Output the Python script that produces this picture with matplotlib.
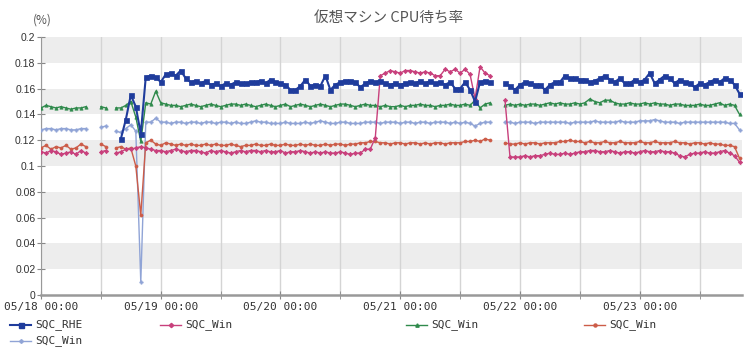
import numpy as np
import pandas as pd
import matplotlib.pyplot as plt
import matplotlib.dates as mdates
from matplotlib.lines import Line2D

# hourly samples 05/18 00:00 - 05/23 20:00, values in 1/1000
times = pd.date_range("2015-05-18 00:00", periods=141, freq="h")

labels = ["SQC_RHE", "SQC_Win", "SQC_Win", "SQC_Win", "SQC_Win"]

rhe = [None] * 10 + [None, None] + [None, None] + [None] + [
    None, 121, 136, 155, 146, 125, 169, 170, 169, 165,
    171, 172, 170, 174, 168, 165, 166, 164, 166, 163,
    164, 162, 164, 163, 165, 164, 164, 165, 165, 166,
    164, 167, 165, 164, 163, 159, 159, 162, 167, 162,
    163, 162, 170, 159, 163, 165, 166, 166, 165, 161,
    164, 166, 165, 166, 164, 163, 164, 163, 164, 165,
    164, 166, 164, 166, 164, 165, 163, 165, 160, 160,
    165, 159, 150, 165, 166, 165] + [None, None] + [
    164, 162, 159, 163, 165, 164, 163, 163, 159, 163,
    165, 165, 170, 168, 168, 167, 167, 165, 166, 168,
    170, 167, 165, 168, 164, 164, 167, 165, 167, 172,
    164, 167, 170, 168, 164, 167, 165, 164, 161, 164,
    163, 165, 167, 165, 168, 167, 163, 156]

win_a = [111, 110, 112, 111, 109, 110, 111, 109, 112, 110] + [None, None] + [111, 112] + [None] + [
    110, 111, 113, 113, 114, 115, 114, 113, 112, 112,
    111, 112, 113, 112, 111, 112, 112, 111, 110, 112,
    111, 112, 111, 110, 111, 112, 111, 112, 112, 111,
    112, 111, 111, 112, 110, 111, 111, 112, 111, 110,
    111, 110, 111, 110, 110, 111, 110, 109, 110, 110,
    113, 113, 122, 170, 172, 174, 173, 172, 174, 174,
    173, 172, 173, 172, 170, 170, 175, 173, 175, 172,
    175, 171, 152, 177, 172, 170] + [None, None] + [
    151, 107, 107, 107, 108, 107, 108, 108, 109, 110,
    109, 109, 110, 109, 110, 111, 111, 112, 112, 111,
    111, 112, 111, 110, 111, 111, 110, 111, 112, 111,
    111, 112, 111, 111, 110, 108, 107, 109, 110, 110,
    111, 110, 110, 111, 112, 110, 108, 103]

win_b = [145, 147, 146, 145, 146, 145, 144, 145, 145, 146] + [None, None] + [146, 145] + [None] + [
    145, 145, 147, 150, 138, 119, 149, 148, 158, 149,
    148, 147, 147, 146, 147, 148, 147, 146, 147, 148,
    147, 146, 147, 148, 148, 147, 148, 147, 146, 147,
    148, 147, 146, 147, 148, 146, 147, 148, 147, 146,
    147, 148, 147, 146, 147, 148, 148, 147, 146, 147,
    148, 147, 147, 146, 147, 146, 146, 147, 146, 147,
    147, 148, 147, 147, 146, 147, 147, 148, 147, 147,
    148, 147, 151, 145, 148, 149] + [None, None] + [
    147, 148, 147, 148, 147, 148, 148, 147, 148, 149,
    148, 149, 148, 148, 149, 148, 149, 152, 150, 149,
    151, 151, 149, 148, 148, 149, 148, 148, 149, 148,
    149, 148, 148, 147, 148, 148, 147, 147, 147, 148,
    147, 147, 148, 149, 147, 148, 147, 140]

win_c = [114, 116, 113, 115, 114, 116, 113, 114, 117, 115] + [None, None] + [117, 115] + [None] + [
    114, 115, 113, 114, 100, 62, 118, 120, 117, 116,
    118, 117, 116, 117, 116, 117, 116, 116, 117, 116,
    117, 116, 116, 117, 116, 115, 116, 116, 117, 116,
    116, 117, 116, 116, 117, 116, 116, 117, 116, 117,
    116, 116, 117, 116, 117, 117, 116, 117, 117, 118,
    118, 119, 119, 118, 118, 117, 118, 118, 117, 118,
    118, 117, 118, 117, 118, 118, 117, 118, 118, 118,
    119, 119, 120, 119, 121, 120] + [None, None] + [
    118, 117, 117, 118, 117, 118, 118, 117, 118, 118,
    118, 119, 119, 120, 119, 119, 118, 119, 118, 118,
    119, 118, 118, 119, 118, 118, 118, 119, 118, 118,
    119, 118, 118, 118, 119, 118, 118, 117, 118, 118,
    117, 118, 117, 117, 116, 116, 115, 106]

win_d = [128, 129, 129, 128, 129, 129, 128, 128, 129, 129] + [None, None] + [130, 131] + [None] + [
    127, 126, 129, 132, 127, 10, 134, 134, 137, 134,
    134, 133, 134, 134, 133, 134, 134, 133, 134, 134,
    133, 134, 134, 133, 134, 133, 133, 134, 135, 134,
    134, 133, 133, 133, 134, 133, 133, 133, 134, 133,
    134, 135, 134, 133, 133, 134, 134, 133, 133, 133,
    134, 134, 134, 133, 134, 134, 134, 133, 134, 134,
    133, 134, 134, 133, 134, 134, 134, 133, 134, 133,
    134, 133, 131, 133, 134, 134] + [None, None] + [
    134, 134, 133, 134, 134, 134, 133, 134, 134, 134,
    134, 134, 134, 133, 134, 134, 134, 134, 135, 134,
    134, 134, 134, 135, 134, 134, 134, 135, 135, 135,
    136, 135, 134, 134, 134, 133, 134, 134, 134, 134,
    134, 134, 134, 134, 134, 133, 133, 128]


def to_rate(vals):
    return np.array([np.nan if v is None else v for v in vals], dtype=float) / 1000


series = [rhe, win_a, win_b, win_c, win_d]
colors = ["#1f3c9c", "#c8407c", "#2f8a4c", "#cc5c48", "#90a4d6"]
markers = ["s", "D", "^", "o", "P"]
msizes = [3.6, 2.2, 2.4, 2.2, 2.4]
lwidths = [1.5, 1.0, 1.0, 1.0, 1.0]

fig = plt.figure(figsize=(7.46, 3.49), dpi=100)
ax = fig.add_axes([41 / 746, 1 - 295 / 349, 701 / 746, 258 / 349])

for lo in [0.02, 0.06, 0.10, 0.14, 0.18]:
    ax.axhspan(lo, lo + 0.02, color="#ededed", zorder=0, lw=0)

for i in [4, 3, 2, 1, 0]:
    ax.plot(times, to_rate(series[i]), color=colors[i], marker=markers[i],
            markersize=msizes[i], linewidth=lwidths[i], markeredgewidth=0.5,
            zorder=3 + (5 - i))

ax.set_ylim(0, 0.2)
ax.set_yticks(np.arange(0, 0.201, 0.02))
ax.set_yticklabels(["0", "0.02", "0.04", "0.06", "0.08", "0.1", "0.12",
                    "0.14", "0.16", "0.18", "0.2"])
ax.set_xlim(times[0], times[0] + pd.Timedelta(hours=140.5))

ax.xaxis.set_major_locator(mdates.HourLocator(byhour=[0]))
ax.xaxis.set_minor_locator(mdates.HourLocator(byhour=[12]))
ax.xaxis.set_major_formatter(mdates.DateFormatter("%m/%d %H:%M"))
ax.grid(True, axis="x", which="both", color="#d4d4d4", linewidth=1, zorder=1)
ax.set_axisbelow(True)

ax.tick_params(axis="x", which="both", direction="inout", length=6, color="#888888",
               labelsize=8, labelcolor="#333333", pad=2)
ax.tick_params(axis="y", direction="inout", length=6, color="#888888",
               labelsize=7.5, labelcolor="#333333", pad=1)
for lab in ax.get_xticklabels():
    lab.set_family("DejaVu Sans Mono")
for lab in ax.get_yticklabels():
    lab.set_family("Liberation Sans")

for s in ["top", "right"]:
    ax.spines[s].set_visible(False)
ax.spines["left"].set_color("#999999")
ax.spines["bottom"].set_color("#999999")
ax.spines["bottom"].set_linewidth(1.8)

fig.text(389 / 746, 1 - 18 / 349, "仮想マシン CPU待ち率", ha="center", va="center",
         fontsize=10.5, color="#555555", family=["Noto Sans CJK JP", "DejaVu Sans"])
fig.text(42 / 746, 1 - 20 / 349, "(%)", ha="center", va="center",
         fontsize=8.5, color="#555555", family=["Noto Sans CJK JP", "DejaVu Sans"])

# legend drawn in figure pixels
leg_pos = [(10, 325), (160, 325), (406, 325), (584, 325), (10, 341)]
for i, (lx, ly) in enumerate(leg_pos):
    yy = 1 - ly / 349
    fig.add_artist(Line2D([lx / 746, (lx + 21) / 746], [yy, yy], color=colors[i],
                          linewidth=lwidths[i], transform=fig.transFigure))
    fig.add_artist(Line2D([(lx + 10.5) / 746], [yy], color=colors[i], linestyle="none",
                          marker=markers[i], markersize=msizes[i],
                          transform=fig.transFigure))
    fig.text((lx + 25) / 746, yy, labels[i], ha="left", va="center", fontsize=8,
             color="#333333", family="DejaVu Sans Mono")

fig.savefig("out.png", dpi=100)
